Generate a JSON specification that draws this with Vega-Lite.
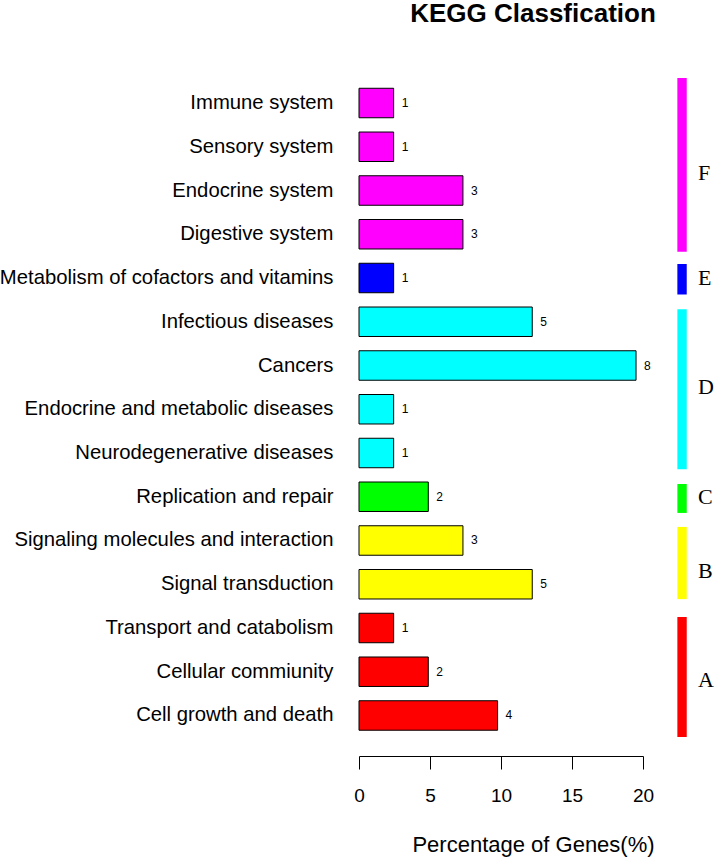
{
  "$schema": "https://vega.github.io/schema/vega-lite/v6.json",
  "width": 284,
  "height": 693.5,
  "autosize": {"type": "none"},
  "padding": {"left": 359, "top": 62.5, "right": 73, "bottom": 106},
  "background": "white",
  "config": {"view": {"stroke": null}, "font": "Liberation Sans"},
  "title": {
    "text": "KEGG Classfication",
    "font": "Liberation Sans",
    "fontSize": 26,
    "fontWeight": "bold",
    "color": "black",
    "anchor": "middle",
    "frame": "group",
    "dx": 32,
    "offset": 36
  },
  "datasets": {
    "pathways": [
      {"pathway": "Immune system", "group": "F", "count": 1, "percent": 2.44},
      {"pathway": "Sensory system", "group": "F", "count": 1, "percent": 2.44},
      {"pathway": "Endocrine system", "group": "F", "count": 3, "percent": 7.32},
      {"pathway": "Digestive system", "group": "F", "count": 3, "percent": 7.32},
      {"pathway": "Metabolism of cofactors and vitamins", "group": "E", "count": 1, "percent": 2.44},
      {"pathway": "Infectious diseases", "group": "D", "count": 5, "percent": 12.2},
      {"pathway": "Cancers", "group": "D", "count": 8, "percent": 19.51},
      {"pathway": "Endocrine and metabolic diseases", "group": "D", "count": 1, "percent": 2.44},
      {"pathway": "Neurodegenerative diseases", "group": "D", "count": 1, "percent": 2.44},
      {"pathway": "Replication and repair", "group": "C", "count": 2, "percent": 4.88},
      {"pathway": "Signaling molecules and interaction", "group": "B", "count": 3, "percent": 7.32},
      {"pathway": "Signal transduction", "group": "B", "count": 5, "percent": 12.2},
      {"pathway": "Transport and catabolism", "group": "A", "count": 1, "percent": 2.44},
      {"pathway": "Cellular commiunity", "group": "A", "count": 2, "percent": 4.88},
      {"pathway": "Cell growth and death", "group": "A", "count": 4, "percent": 9.76}
    ],
    "groups": [
      {"group": "F", "start": -0.571, "end": 3.40, "mid": 1.6},
      {"group": "E", "start": 3.68, "end": 4.377, "mid": 4.0},
      {"group": "D", "start": 4.715, "end": 8.37, "mid": 6.5},
      {"group": "C", "start": 8.709, "end": 9.37, "mid": 9.0},
      {"group": "B", "start": 9.69, "end": 11.34, "mid": 10.7},
      {"group": "A", "start": 11.75, "end": 14.49, "mid": 13.2}
    ]
  },
  "layer": [
    {
      "data": {"name": "pathways"},
      "encoding": {
        "y": {
          "field": "pathway",
          "type": "nominal",
          "sort": null,
          "scale": {"paddingInner": 0.326, "paddingOuter": 0.589},
          "axis": {
            "title": null,
            "domain": false,
            "ticks": false,
            "tickSize": 0,
            "labelPadding": 26,
            "labelFontSize": 20.3,
            "labelFont": "Liberation Sans",
            "labelColor": "black",
            "labelLimit": 400
          }
        },
        "x": {
          "field": "percent",
          "type": "quantitative",
          "scale": {"domain": [0, 20], "nice": false, "zero": true},
          "axis": {
            "values": [0, 5, 10, 15, 20],
            "grid": false,
            "domainColor": "black",
            "domainWidth": 1,
            "tickColor": "black",
            "tickWidth": 1,
            "tickSize": 13,
            "labelFontSize": 19,
            "labelFont": "Liberation Sans",
            "labelColor": "black",
            "labelPadding": 17,
            "labelFlush": false,
            "title": "Percentage of Genes(%)",
            "titleFont": "Liberation Sans",
            "titleFontSize": 22,
            "titleFontWeight": "normal",
            "titleColor": "black",
            "titleX": 174,
            "titleY": 95,
            "titleAlign": "center",
            "titleBaseline": "alphabetic",
            "titleAngle": 0
          }
        }
      },
      "layer": [
        {
          "mark": {"type": "bar", "stroke": "black", "strokeWidth": 1},
          "encoding": {
            "color": {
              "field": "group",
              "type": "nominal",
              "scale": {
                "domain": ["A", "B", "C", "D", "E", "F"],
                "range": ["#FF0000", "#FFFF00", "#00FF00", "#00FFFF", "#0000FF", "#FF00FF"]
              },
              "legend": null
            }
          }
        },
        {
          "mark": {"type": "text", "align": "left", "baseline": "middle", "dx": 8, "fontSize": 12, "font": "Liberation Sans", "color": "black"},
          "encoding": {
            "text": {"field": "count"}
          }
        }
      ]
    },
    {
      "data": {"name": "groups"},
      "encoding": {
        "y": {
          "field": "start",
          "type": "quantitative",
          "scale": {"domain": [-0.926, 14.926], "reverse": true, "nice": false, "zero": false},
          "axis": null
        }
      },
      "layer": [
        {
          "mark": {"type": "rect"},
          "encoding": {
            "y2": {"field": "end"},
            "x": {"datum": 22.42, "type": "quantitative", "scale": {"domain": [0, 20], "nice": false}},
            "x2": {"datum": 23.08},
            "color": {"field": "group", "type": "nominal", "legend": null}
          }
        },
        {
          "mark": {"type": "text", "align": "left", "baseline": "middle", "fontSize": 22, "font": "Liberation Serif", "color": "black"},
          "encoding": {
            "y": {"field": "mid", "type": "quantitative", "axis": null},
            "x": {"datum": 23.87, "type": "quantitative", "scale": {"domain": [0, 20], "nice": false}},
            "text": {"field": "group"}
          }
        }
      ]
    }
  ],
  "resolve": {"scale": {"y": "independent"}}
}
